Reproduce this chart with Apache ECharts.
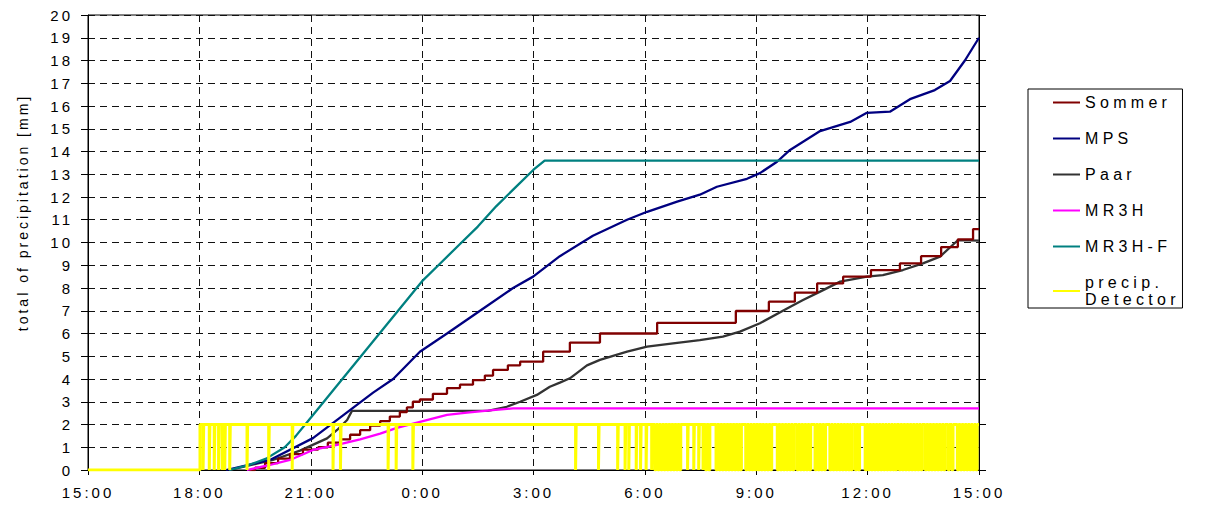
<!DOCTYPE html>
<html><head><meta charset="utf-8">
<script src="https://cdn.jsdelivr.net/npm/echarts@6/dist/echarts.min.js"></script>
<style>
html,body{margin:0;padding:0;background:#fff;}
#c{width:1215px;height:518px;}
#c text{letter-spacing:3px;}
#c text[style*="16px"]{letter-spacing:4.3px;}
</style></head><body><div id="c"></div>
<script>
// x values: hours since 15:00 (0 .. 24)
const timeTickLabels = ['15:00','18:00','21:00','0:00','3:00','6:00','9:00','12:00','15:00'];

const sommerT = [4.35,4.50,4.77,5.12,5.44,5.79,6.20,6.46,6.79,7.06,7.33,7.60,7.87,8.13,8.40,8.59,8.75,8.94,9.29,9.67,10.02,10.37,10.69,10.91,11.31,11.64,12.26,12.98,13.79,15.33,17.45,18.34,19.04,19.64,20.34,21.09,21.87,22.44,22.98,23.43,23.84,24.00];
const sommerV = [0,0.1,0.3,0.5,0.7,0.9,1.0,1.2,1.35,1.55,1.75,1.95,2.15,2.35,2.55,2.75,3.0,3.1,3.35,3.6,3.75,3.95,4.15,4.4,4.6,4.76,5.2,5.6,6.0,6.47,6.99,7.4,7.8,8.2,8.5,8.79,9.08,9.4,9.8,10.14,10.59,10.59];

const mpsT = [3.72,4.90,6.06,6.79,7.68,8.22,8.94,9.67,10.56,11.45,11.99,12.71,13.60,14.52,15.06,15.87,16.48,16.94,17.75,18.10,18.56,18.91,19.72,20.53,20.98,21.60,22.14,22.81,23.22,23.62,24.00];
const mpsV = [0,0.44,1.4,2.3,3.4,4.0,5.2,6.0,7.0,8.0,8.5,9.4,10.3,11.0,11.35,11.8,12.1,12.45,12.8,13.05,13.55,14.07,14.9,15.3,15.7,15.75,16.3,16.7,17.1,18.0,19.0];

const paarT = [3.82,4.98,5.71,6.44,6.71,6.98,7.11,10.77,11.28,11.64,12.09,12.44,12.71,12.98,13.44,13.79,14.52,15.06,15.76,16.48,17.10,17.56,18.10,18.83,19.26,19.72,20.26,20.98,21.41,21.95,22.49,22.95,23.43,24.00];
const paarV = [0,0.44,0.85,1.39,1.76,2.2,2.6,2.6,2.78,3.0,3.3,3.66,3.84,4.03,4.6,4.84,5.2,5.42,5.57,5.71,5.86,6.08,6.45,7.1,7.47,7.84,8.28,8.5,8.57,8.79,9.08,9.38,10.1,10.08];

const mr3hT = [4.28,4.90,5.44,6.06,6.71,7.33,7.87,8.32,9.02,9.67,10.21,10.83,11.45,24.00];
const mr3hV = [0,0.22,0.44,0.88,1.1,1.35,1.6,1.85,2.15,2.42,2.52,2.62,2.71,2.71];

const mr3hfT = [3.8,4.3,4.8,5.3,5.6,6.0,6.5,7.0,7.5,8.0,8.5,9.0,9.5,10.0,10.5,11.0,11.5,12.0,12.3,24.0];
const mr3hfV = [0,0.2,0.5,1.0,1.5,2.3,3.3,4.3,5.3,6.3,7.3,8.3,9.1,9.9,10.7,11.6,12.4,13.2,13.6,13.6];

// precipitation detector: minutes since 15:00; on (2) from detectorOn, off (0) during each drop
const detectorOn = 181;
const detDropStart = [186,196,204,211,217,221,229,257,292,330,396,408,485,498,525,
 788,825,856,868,874,886,893,902,911,
 916,921,926,931,936,941,946,951,956,
 969,979,987,994,998,1003,
 1015,1020,1025,1030,1035,1040,1045,1050,1054,
 1063,1068,1073,1078,1083,1088,1093,1098,1103,
 1114,1119,1124,1129,1134,1139,
 1146,1151,1156,1161,1166,
 1175,1180,1185,1190,
 1199,1204,1209,1214,1219,1224,1229,1233,
 1240,1245,
 1256,1261,1266,1271,1276,1281,1286,1291,1296,1301,1305,
 1311,1316,1321,1326,1331,1336,1341,1346,
 1353,1358,1363,1368,1373,1378,1383,
 1390,1396,
 1405,1410,1415,1420,1425,1430,1435];
const detDropEnd = [187,197,205,212,218,222,230,258,293,331,397,409,486,499,526,
 789,826,857,869,875,887,894,903,912,
 918,923,928,933,938,943,948,953,958,
 970,980,988,995,1000,1005,
 1017,1022,1027,1032,1037,1042,1047,1052,1056,
 1065,1070,1075,1080,1085,1090,1095,1100,1105,
 1116,1121,1126,1131,1136,1141,
 1148,1153,1158,1163,1168,
 1177,1182,1187,1192,
 1201,1206,1211,1216,1221,1226,1231,1235,
 1242,1247,
 1258,1263,1268,1273,1278,1283,1288,1293,1298,1303,1307,
 1313,1318,1323,1328,1333,1338,1343,1348,
 1355,1360,1365,1370,1375,1380,1385,
 1392,1398,
 1407,1412,1417,1422,1427,1432,1437];
const detectorEnd = 1440;

function pairs(t, v){ return t.map((x,i)=>[x, v[i]]); }
const det = [[0,0],[detectorOn/60,2]];
for (let i=0;i<detDropStart.length;i++){ det.push([detDropStart[i]/60,0]); det.push([detDropEnd[i]/60,2]); }
det.push([detectorEnd/60,2]);

const FONT = 'Liberation Sans';
const gridLine = {show:true, lineStyle:{type:[7,5], color:'#111', width:1}};
function lineSeries(name, data, color, width, extra){
  return Object.assign({name, type:'line', data, symbol:'none', showSymbol:false,
    lineStyle:{color, width}, itemStyle:{color}, animation:false}, extra||{});
}

const chart = echarts.init(document.getElementById('c'), null, {renderer:'svg'});
chart.setOption({
  animation:false,
  backgroundColor:'#fff',
  grid:{left:88, right:236, top:15, bottom:48, show:true, borderColor:'#000', borderWidth:1},
  xAxis:{type:'value', min:0, max:24, interval:3,
    axisLine:{show:true, lineStyle:{color:'#000'}},
    axisTick:{show:true, length:5, lineStyle:{color:'#000'}},
    axisLabel:{formatter:v=>timeTickLabels[Math.round(v/3)], fontSize:15, color:'#000', margin:15, fontFamily:FONT},
    splitLine:gridLine},
  yAxis:[{type:'value', min:0, max:20, interval:1,
    name:'total of precipitation [mm]', nameLocation:'middle', nameGap:58,
    nameTextStyle:{fontSize:14, color:'#000', fontFamily:FONT, padding:[0,0,0,60]},
    axisLine:{show:true, lineStyle:{color:'#000'}},
    axisTick:{show:true, length:7, lineStyle:{color:'#000'}},
    axisLabel:{fontSize:15, color:'#000', margin:15, fontFamily:FONT},
    splitLine:gridLine},
   {type:'value', min:0, max:20, interval:2, position:'right',
    axisLine:{show:true, lineStyle:{color:'#000'}},
    axisTick:{show:true, length:7, lineStyle:{color:'#000'}},
    axisLabel:{show:false}, splitLine:{show:false}}],
  legend:{orient:'vertical', left:1028, top:89, icon:'rect', itemWidth:27, itemHeight:2, itemGap:19,
    padding:[5,37,0,25], borderColor:'#000', borderWidth:1, backgroundColor:'#fff',
    textStyle:{fontSize:16, color:'#000', fontFamily:FONT, lineHeight:17},
    data:['Sommer','MPS','Paar','MR3H','MR3H-F','precip.\nDetector']},
  series:[
    lineSeries('Sommer', pairs(sommerT, sommerV), '#800000', 2.3, {step:'end', z:3}),
    lineSeries('MPS', pairs(mpsT, mpsV), '#000080', 2.3, {z:3}),
    lineSeries('Paar', pairs(paarT, paarV), '#333333', 2.3, {z:2}),
    lineSeries('MR3H', pairs(mr3hT, mr3hV), '#FF00FF', 2.3, {z:3}),
    lineSeries('MR3H-F', pairs(mr3hfT, mr3hfV), '#008080', 2.3, {z:3}),
    lineSeries('precip.\nDetector', det, '#FFFF00', 3, {step:'end', z:5})
  ]
});
</script></body></html>
